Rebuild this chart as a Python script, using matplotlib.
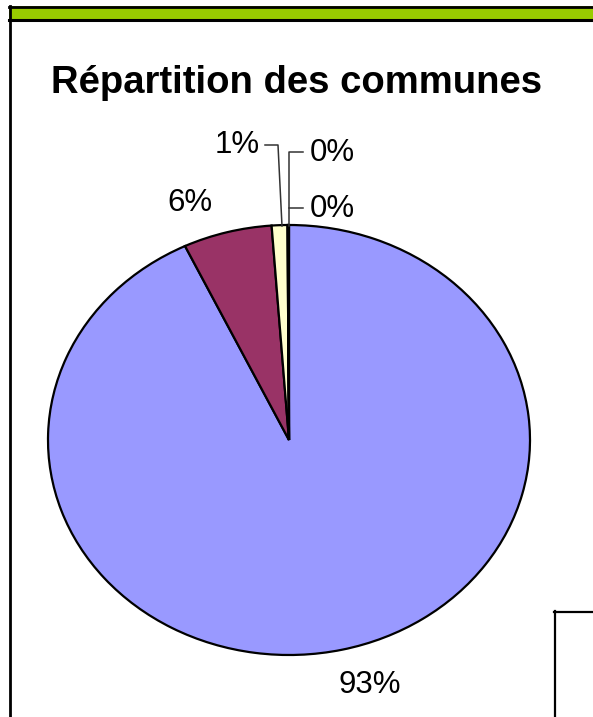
import matplotlib
matplotlib.use('Agg')
import matplotlib.pyplot as plt
from matplotlib.patches import Rectangle
from matplotlib.lines import Line2D

plt.rcParams['font.family'] = ['Liberation Sans', 'DejaVu Sans']

# donnees (parts des communes)
title = 'Répartition des communes'
shares = [92.9, 5.95, 1.05, 0.06, 0.04]
labels = ['93%', '6%', '1%', '0%', '0%']
colors = ['#9999FF', '#993366', '#FFFFCC', '#CCFFFF', '#660066']

W, H = 593, 717
fig = plt.figure(figsize=(W / 100, H / 100), dpi=100)
fig.patch.set_facecolor('white')


def fx(px):
    return px / W


def fy(py):
    return 1 - py / H


# cadre + bandeau vert
fig.add_artist(Rectangle((fx(9), fy(19.5)), 1, (19.5 - 6) / H, transform=fig.transFigure,
                         facecolor='#99CC00', edgecolor='none'))
fig.add_artist(Line2D([fx(9), 1], [fy(6.5), fy(6.5)], transform=fig.transFigure, color='black', lw=2))
fig.add_artist(Line2D([fx(9), 1], [fy(19.5), fy(19.5)], transform=fig.transFigure, color='black', lw=2.2))
fig.add_artist(Line2D([fx(9.5), fx(9.5)], [fy(6), 0], transform=fig.transFigure, color='black', lw=2))
# petite boite en bas a droite
fig.add_artist(Line2D([fx(554.5), fx(554.5)], [fy(611), 0], transform=fig.transFigure, color='black', lw=1.6))
fig.add_artist(Line2D([fx(554), 1], [fy(611.5), fy(611.5)], transform=fig.transFigure, color='black', lw=1.6))

fig.text(fx(297), fy(83), title, ha='center', va='center', fontsize=27.5, fontweight='bold')

# camembert (ellipse)
cx, cy, rx, ry = 289, 440, 241, 215
ax = fig.add_axes([fx(cx - rx), fy(cy + ry), 2 * rx / W, 2 * ry / H])
wedges, _ = ax.pie(shares, colors=colors, startangle=90, counterclock=False,
                   wedgeprops=dict(edgecolor='black', linewidth=1.6))
ax.set_aspect('auto')
ax.set_xlim(-1, 1)
ax.set_ylim(-1, 1)
ax.axis('off')


def d(px, py):
    return ((px - cx) / rx, (cy - py) / ry)


fs = 22.5
ax.text(*d(370, 685), labels[0], ha='center', va='center', fontsize=fs)
ax.text(*d(190, 203), labels[1], ha='center', va='center', fontsize=fs)
ax.text(*d(237, 145), labels[2], ha='center', va='center', fontsize=fs)
ax.text(*d(332, 153), labels[3], ha='center', va='center', fontsize=fs)
ax.text(*d(332, 209), labels[4], ha='center', va='center', fontsize=fs)

# traits de rappel
lc = '#333333'
p = [d(265, 145), d(278, 145), d(282, 226)]
ax.plot([q[0] for q in p], [q[1] for q in p], color=lc, lw=1.1, clip_on=False)
p = [d(303, 152), d(288.5, 152), d(288.5, 226)]
ax.plot([q[0] for q in p], [q[1] for q in p], color=lc, lw=1.1, clip_on=False)
p = [d(303, 208), d(288.5, 208)]
ax.plot([q[0] for q in p], [q[1] for q in p], color=lc, lw=1.1, clip_on=False)

fig.savefig('out.png', dpi=100)
